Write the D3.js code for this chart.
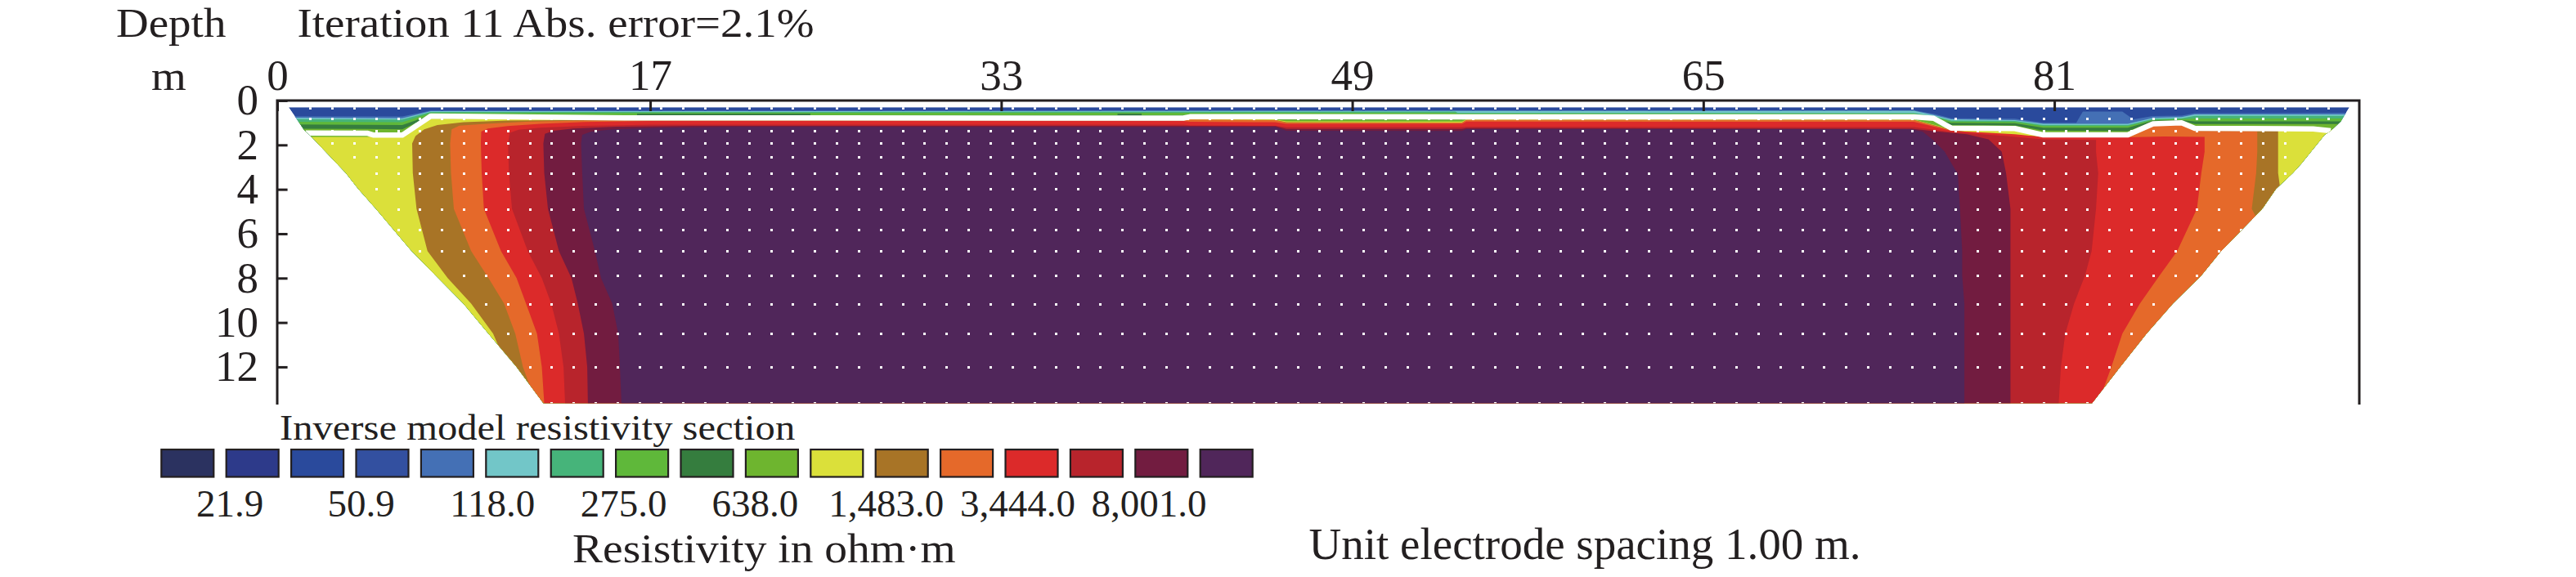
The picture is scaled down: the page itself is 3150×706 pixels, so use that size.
<!DOCTYPE html>
<html>
<head>
<meta charset="utf-8">
<script src="https://cdn.jsdelivr.net/npm/d3@7/dist/d3.min.js"></script>
<style>
  body { margin: 0; background: #fff; }
  svg text { font-family: "Liberation Serif", "Times New Roman", serif; fill: #231f20; }
</style>
</head>
<body>
<svg id="chart" width="3150" height="706"></svg>
<script>
// legend classes (contour levels, lowest to highest resistivity)
var legendColors = ["#2b3260", "#2d3a8a", "#2a4a9c", "#3350a0", "#4470b5", "#72c6c8", "#46b47a",
    "#5fb83a", "#357d3e", "#6eb52f", "#dbe03a", "#a87426", "#e5692a", "#dc2a2a", "#b8242c",
    "#721c40", "#50265a"];
var legendLabels = ["21.9", "50.9", "118.0", "275.0", "638.0", "1,483.0", "3,444.0", "8,001.0"];

var xTicks = [0, 17, 33, 49, 65, 81];
var yTicks = [0, 2, 4, 6, 8, 10, 12];

// section outline, [distance m, depth m]
var outlineLeft = [[0.52, 0.3], [1.22, 1.32], [1.53, 1.6], [3.13, 3.27], [3.7, 3.99], [4.5, 4.88],
    [6.13, 6.78], [7.34, 8.0], [8.49, 9.15], [9.63, 10.5], [10.91, 12.0], [12.13, 13.63]];
var outlineRight = [[82.72, 13.63], [84.0, 12.0], [85.2, 10.5], [86.4, 9.15], [87.7, 7.88],
    [88.6, 6.78], [90.48, 4.88], [91.1, 3.99], [91.87, 3.27], [92.25, 2.85], [93.32, 1.55],
    [93.6, 1.36], [94.06, 0.94], [94.45, 0.3]];

// background class of the section
var baseClass = 3;

// regions where resistivity >= class, [distance m, depth m]
var level05 = [[-1, 0.71], [5.7, 0.72], [7.0, 0.45], [74.6, 0.44], [75.5, 0.6], [76.3, 0.8],
    [79.2, 0.82], [80.5, 1.0], [82.0, 1.0], [82.3, 0.5], [84.1, 0.5], [84.6, 0.85], [85.5, 0.7],
    [86.8, 0.68], [87.4, 0.57], [96, 0.55], [96, 15], [-1, 15]];
var level06 = [[-1, 0.77], [5.7, 0.8], [7.0, 0.48], [53.7, 0.47], [74.6, 0.46], [75.5, 0.65],
    [76.3, 0.85], [79.2, 0.88], [80.5, 1.05], [84.35, 1.05], [85.5, 0.78], [86.8, 0.75],
    [87.4, 0.63], [96, 0.62], [96, 15], [-1, 15]];
var level07 = [[-1, 0.83], [5.7, 0.86], [7.0, 0.52], [53.7, 0.5], [53.8, 0.55], [74.6, 0.56],
    [75.5, 0.7], [76.3, 0.9], [79.2, 0.92], [80.5, 1.1], [84.35, 1.1], [85.5, 0.83], [86.8, 0.8],
    [87.4, 0.69], [96, 0.69], [96, 15], [-1, 15]];
var level08 = [[-1, 0.95], [5.7, 0.98], [7.0, 0.56], [53.7, 0.55], [53.8, 0.59], [74.6, 0.6],
    [75.5, 0.74], [76.3, 0.95], [79.2, 0.97], [80.5, 1.15], [84.35, 1.15], [85.5, 0.87],
    [86.8, 0.84], [87.4, 0.81], [96, 0.81], [96, 15], [-1, 15]];
var level09 = [[-1, 1.07], [5.7, 1.1], [7.0, 0.66], [16.4, 0.66], [16.4, 0.59], [24.3, 0.59],
    [24.3, 0.66], [38.3, 0.66], [38.3, 0.59], [39.4, 0.59], [39.4, 0.66], [74.6, 0.66],
    [76.3, 1.0], [79.2, 1.02], [80.5, 1.22], [84.35, 1.22], [85.5, 0.9], [86.8, 0.88],
    [87.4, 0.94], [96, 0.94], [96, 15], [-1, 15]];
var level10 = [[-1, 1.26], [4.1, 1.28], [5.7, 1.3], [7.0, 0.7], [45, 0.72], [45.5, 0.86],
    [54, 0.86], [54.2, 0.72], [74.6, 0.72], [76.3, 1.1], [79.2, 1.12], [80.5, 1.35],
    [84.35, 1.38], [85.5, 0.95], [86.8, 0.92], [87.4, 1.06], [96, 1.06], [96, 15], [-1, 15]];
var level11 = [[-1, 1.64], [4.1, 1.64], [4.4, 1.6], [5.7, 1.6], [7.0, 0.82], [41.3, 0.86],
    [45.5, 0.86], [46, 0.94], [54, 0.95], [54.2, 0.86], [74.6, 0.86], [76.3, 1.3], [79.2, 1.33],
    [80.5, 1.6], [84.35, 1.62], [85.5, 1.1], [86.8, 1.06], [87.4, 1.33], [96, 1.34], [96, 15],
    [-1, 15]];
var level12 = [[11.0, 15], [11.0, 13.63], [10.5, 12.0], [9.84, 10.5], [8.84, 9.15], [7.77, 8.0],
    [6.85, 6.78], [6.35, 4.88], [6.18, 3.27], [6.15, 1.93], [6.3, 1.6], [6.7, 1.3], [7.3, 1.1],
    [8.5, 0.98], [10.5, 0.9], [13, 0.88], [45.5, 0.88], [46, 0.98], [54, 0.99], [54.2, 0.87],
    [74.6, 0.87], [76.3, 1.32], [77.8, 1.52], [80.5, 1.62], [84.35, 1.63], [85.5, 1.12],
    [86.8, 1.08], [87.4, 1.35], [91.2, 1.36], [91.2, 3.27], [91.3, 4.0], [93, 6], [96, 8],
    [96, 15]];
var level13 = [[11.8, 15], [11.8, 13.63], [11.2, 12.0], [10.85, 10.5], [10.34, 9.15],
    [9.63, 8.0], [8.84, 6.78], [8.05, 4.88], [7.92, 3.27], [7.88, 1.93], [7.95, 1.3],
    [8.3, 1.13], [9.5, 1.05], [11.5, 0.95], [14, 0.9], [41.3, 0.9], [41.6, 0.86], [45.5, 0.88],
    [46, 1.0], [54, 1.0], [54.2, 0.87], [74.6, 0.88], [76.3, 1.34], [77.8, 1.55], [80.5, 1.63],
    [84.35, 1.64], [85.5, 1.14], [86.8, 1.1], [87.4, 1.37], [90.25, 1.38], [90.25, 2.3],
    [90.2, 3.27], [90.0, 4.88], [91, 6.78], [96, 10], [96, 15]];
var level14 = [[12.17, 15], [12.17, 13.63], [12.06, 12.0], [11.84, 10.5], [11.34, 9.15],
    [10.91, 8.0], [10.2, 6.78], [9.42, 4.88], [9.32, 3.27], [9.28, 1.93], [9.3, 1.4],
    [9.6, 1.26], [10.5, 1.15], [12, 1.05], [14, 0.97], [17, 0.92], [41.3, 0.92], [41.6, 0.96],
    [45.5, 0.98], [46, 1.05], [54, 1.05], [54.2, 0.95], [74.6, 0.96], [76.3, 1.36], [79.2, 1.52],
    [80.5, 1.65], [84.35, 1.66], [86, 1.62], [87.85, 1.64], [87.85, 2.3], [87.7, 3.27],
    [87.5, 4.88], [86.6, 6.78], [85.8, 7.88], [84.9, 9.15], [84.1, 10.5], [83.6, 12.0],
    [83.0, 13.63], [83.0, 15]];
var level15 = [[13.12, 15], [13.12, 13.63], [13.05, 12.0], [12.84, 10.5], [12.49, 9.15],
    [12.06, 8.0], [11.42, 6.78], [10.7, 4.88], [10.56, 3.27], [10.52, 1.93], [10.6, 1.45],
    [11, 1.32], [12, 1.22], [14, 1.14], [17, 1.09], [41.3, 1.09], [41.6, 1.12], [45.5, 1.14],
    [46, 1.2], [54, 1.2], [54.2, 1.18], [74.6, 1.2], [76.3, 1.42], [78.8, 1.6], [80.5, 1.75],
    [82.9, 1.78], [82.9, 2.3], [83.0, 3.27], [82.9, 4.88], [82.7, 6.78], [82.4, 7.88],
    [81.9, 9.15], [81.5, 10.5], [81.3, 12.0], [81.2, 13.63], [81.2, 15]];
var level16 = [[14.16, 15], [14.16, 13.63], [14.13, 12.0], [13.98, 10.5], [13.7, 9.15],
    [13.41, 8.0], [12.84, 6.78], [12.34, 4.88], [12.17, 3.27], [12.13, 1.93], [12.2, 1.5],
    [12.6, 1.36], [13.5, 1.26], [15.5, 1.18], [19, 1.14], [45.5, 1.15], [46, 1.28], [54, 1.28],
    [54.2, 1.24], [74.5, 1.27], [75.5, 1.38], [77.0, 1.52], [78.0, 1.75], [78.6, 2.3],
    [78.8, 3.27], [79.0, 4.88], [79.0, 15]];
var level17 = [[15.69, 15], [15.69, 13.63], [15.62, 12.0], [15.54, 10.5], [15.27, 9.15],
    [14.76, 8.0], [14.48, 6.78], [13.98, 4.88], [13.9, 3.27], [13.85, 1.93], [13.9, 1.55],
    [14.3, 1.4], [15.3, 1.3], [17.5, 1.22], [21, 1.19], [45.5, 1.2], [46, 1.36], [54, 1.37],
    [54.2, 1.29], [73.5, 1.29], [74.5, 1.3], [75.0, 1.4], [75.5, 1.8], [76.0, 2.3], [76.5, 3.15],
    [76.6, 3.27], [76.7, 4.88], [76.8, 6.78], [76.8, 7.88], [76.9, 9.15], [76.9, 15]];

var levelClasses = [5, 6, 7, 8, 9, 10, 11, 12, 13, 14, 15, 16, 17];
var levelShapes = [level05, level06, level07, level08, level09, level10, level11, level12,
    level13, level14, level15, level16, level17];

// white boundary line, [distance m, depth m]
var whiteLine = [[1.3, 1.46], [4.1, 1.47], [4.4, 1.56], [5.7, 1.56], [7.0, 0.7], [16, 0.78],
    [41.3, 0.79], [41.6, 0.73], [74.6, 0.74], [75.5, 0.8], [76.3, 1.24], [79.2, 1.26],
    [80.5, 1.55], [84.35, 1.55], [85.5, 1.05], [86.8, 1.0], [87.4, 1.25], [92.8, 1.28],
    [93.6, 1.36]];

// model block centres: row depth, first and last distance (1 m spacing)
var dotDepths = [0.33, 0.80, 1.37, 1.92, 2.55, 3.28, 3.99, 4.88, 5.82, 6.78, 7.88, 9.15, 10.5, 12.0, 13.63];
var dotFirst = [1.5, 1.5, 2.5, 2.5, 3.5, 4.5, 4.5, 5.5, 5.5, 6.5, 8.5, 9.5, 10.5, 11.5, 12.5];
var dotLast = [93.5, 93.5, 91.5, 91.5, 91.5, 91.5, 90.5, 90.5, 89.5, 88.5, 87.5, 86.5, 84.5, 83.5, 82.5];

var ink = "#231f20";
var svg = d3.select("#chart");

var x = d3.scaleLinear().domain([0, 94.9]).range([339, 2885]);
var y = d3.scaleLinear().domain([0, 14]).range([123, 123 + 14 * 27.16]);

var line = d3.line().x(d => x(d[0])).y(d => y(d[1]));
var outline = outlineLeft.concat(outlineRight);

svg.append("clipPath")
    .attr("id", "section")
    .append("path")
    .attr("d", line(outline) + "Z");

var section = svg.append("g").attr("clip-path", "url(#section)");

section.append("path")
    .attr("d", line(outline) + "Z")
    .attr("fill", legendColors[baseClass - 1]);

levelShapes.forEach(function(pts, i) {
    section.append("path")
        .attr("d", line(pts) + "Z")
        .attr("fill", legendColors[levelClasses[i] - 1]);
});

// block centre dots
var dots = [];
dotDepths.forEach(function(dep, i) {
    for (var xv = dotFirst[i]; xv <= dotLast[i]; xv += 1) dots.push([xv, dep]);
});
section.selectAll("rect.dot")
    .data(dots)
    .enter().append("rect")
    .attr("class", "dot")
    .attr("x", d => Math.round(x(d[0])) - 1)
    .attr("y", d => Math.round(y(d[1])) - 1)
    .attr("width", 3)
    .attr("height", 3)
    .attr("fill", "#ffffff");

section.append("path")
    .attr("d", line(whiteLine))
    .attr("fill", "none")
    .attr("stroke", "#ffffff")
    .attr("stroke-width", 6.5)
    .attr("stroke-linejoin", "round");

// frame
var bottomY = 495;
svg.append("path")
    .attr("d", "M" + x(0) + "," + bottomY + "V" + y(0) + "H" + x(94.9) + "V" + bottomY)
    .attr("fill", "none")
    .attr("stroke", ink)
    .attr("stroke-width", 3);

// axes
var xAxis = d3.axisTop(x).tickValues(xTicks).tickSize(-13).tickPadding(13);
var gx = svg.append("g").attr("transform", "translate(0," + y(0) + ")").call(xAxis);
gx.select(".domain").remove();
gx.selectAll(".tick line").attr("stroke", ink).attr("stroke-width", 3);
gx.selectAll(".tick text")
    .attr("fill", ink)
    .style("font-family", "'Liberation Serif', serif")
    .style("font-size", "53px");

var yAxis = d3.axisLeft(y).tickValues(yTicks).tickSize(-12.6).tickPadding(23);
var gy = svg.append("g").attr("transform", "translate(" + x(0) + ",0)").call(yAxis);
gy.select(".domain").remove();
gy.selectAll(".tick line").attr("stroke", ink).attr("stroke-width", 3);
gy.selectAll(".tick text")
    .attr("fill", ink)
    .style("font-family", "'Liberation Serif', serif")
    .style("font-size", "53px");

function label(tx, ty, txt, size, sx) {
    return svg.append("text")
        .attr("transform", "translate(" + tx + "," + ty + ") scale(" + sx + ",1)")
        .style("font-size", size + "px")
        .text(txt);
}

label(142, 45, "Depth", 50, 1.1);
label(363.5, 45, "Iteration 11 Abs. error=2.1%", 50, 1.1);
label(185, 110, "m", 50, 1.1);

// legend
label(342, 538, "Inverse model resistivity section", 45, 1.08);

var band = d3.scaleBand()
    .domain(d3.range(legendColors.length))
    .range([197.3, 197.3 + 79.4 * 16 + 64])
    .paddingInner(0.194)
    .paddingOuter(0);

svg.selectAll("rect.swatch")
    .data(legendColors)
    .enter().append("rect")
    .attr("class", "swatch")
    .attr("x", (d, i) => band(i))
    .attr("y", 550)
    .attr("width", band.bandwidth())
    .attr("height", 33.5)
    .attr("fill", d => d)
    .attr("stroke", ink)
    .attr("stroke-width", 2.2);

var labelX = d3.scaleLinear().domain([0, legendLabels.length - 1]).range([281, 1405]);
svg.selectAll("text.level")
    .data(legendLabels)
    .enter().append("text")
    .attr("class", "level")
    .attr("x", (d, i) => labelX(i))
    .attr("y", 631.5)
    .attr("text-anchor", "middle")
    .style("font-size", "47px")
    .text(d => d);

label(700, 688, "Resistivity in ohm\u00b7m", 50, 1.11);
label(1600.5, 684, "Unit electrode spacing 1.00 m.", 55, 1);
</script>
</body>
</html>
